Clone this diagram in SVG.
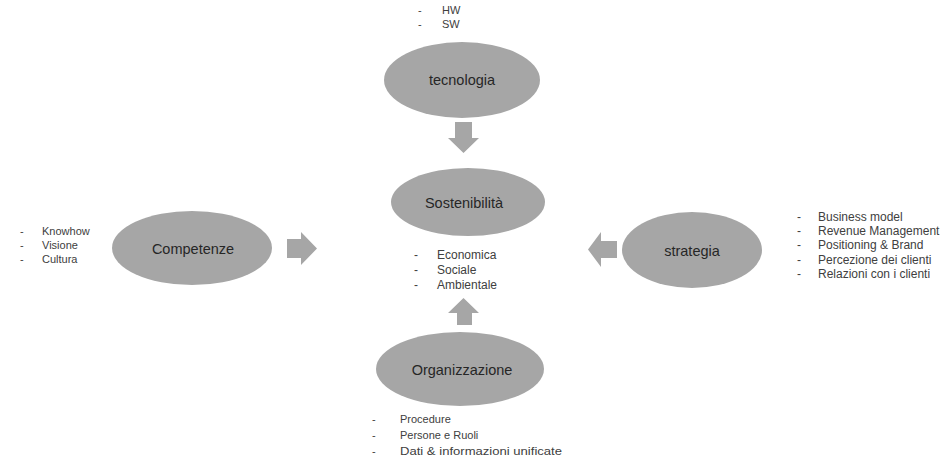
<svg xmlns="http://www.w3.org/2000/svg" width="948" height="459" viewBox="0 0 948 459">
<style>
.node ellipse{fill:#a6a6a6;stroke:none}
.lbl{font-family:"Liberation Sans",Arial,sans-serif;font-size:14.5px;fill:#262626;text-anchor:middle;dominant-baseline:central}
.b{font-family:"Liberation Sans",Arial,sans-serif;font-size:11px;fill:#404040}
.s12{font-size:12px}
.arrow{fill:#a6a6a6}
</style>
<rect width="948" height="459" fill="#ffffff"/>
<g id="connectors">
<path class="arrow" d="M455,122 H472 V138 H479 L463.5,153 L448,138 H455 Z"/>
<path class="arrow" d="M287,239 H301 V232 L317,248.5 L301,265 V258 H287 Z"/>
<path class="arrow" d="M617,241 H601 V232 L588,249.5 L601,267 V258 H617 Z"/>
<path class="arrow" d="M457,325 H472 V313 H479 L463.5,298 L448,313 H457 Z"/>
</g>
<g id="tecnologia" class="node">
<ellipse cx="462" cy="80" rx="78" ry="38"/>
<text class="lbl" x="462" y="80">tecnologia</text>
<text class="b" x="418" y="14">-</text><text class="b" x="442" y="14">HW</text>
<text class="b" x="418" y="28">-</text><text class="b" x="442" y="28">SW</text>
</g>
<g id="sostenibilita" class="node">
<ellipse cx="468" cy="202" rx="77" ry="34"/>
<text class="lbl" x="464" y="203">Sostenibilità</text>
<text class="b s12" x="414" y="259">-</text><text class="b s12" x="437" y="259">Economica</text>
<text class="b s12" x="414" y="274">-</text><text class="b s12" x="437" y="274">Sociale</text>
<text class="b s12" x="414" y="289">-</text><text class="b s12" x="437" y="289">Ambientale</text>
</g>
<g id="competenze" class="node">
<ellipse cx="192" cy="248" rx="80" ry="37"/>
<text class="lbl" x="193" y="249">Competenze</text>
<text class="b" x="20" y="235">-</text><text class="b" x="42" y="235">Knowhow</text>
<text class="b" x="20" y="249">-</text><text class="b" x="42" y="249">Visione</text>
<text class="b" x="20" y="263">-</text><text class="b" x="42" y="263">Cultura</text>
</g>
<g id="strategia" class="node">
<ellipse cx="692" cy="250" rx="70" ry="38"/>
<text class="lbl" x="692" y="251">strategia</text>
<text class="b s12" x="797" y="221">-</text><text class="b s12" x="818" y="221">Business model</text>
<text class="b s12" x="797" y="235">-</text><text class="b s12" x="818" y="235">Revenue Management</text>
<text class="b s12" x="797" y="249">-</text><text class="b s12" x="818" y="249">Positioning &amp; Brand</text>
<text class="b s12" x="797" y="264">-</text><text class="b s12" x="818" y="264">Percezione dei clienti</text>
<text class="b s12" x="797" y="278">-</text><text class="b s12" x="818" y="278">Relazioni con i clienti</text>
</g>
<g id="organizzazione" class="node">
<ellipse cx="460" cy="369" rx="84" ry="37"/>
<text class="lbl" x="462" y="370">Organizzazione</text>
<text class="b" x="372" y="423">-</text><text class="b" x="400" y="423">Procedure</text>
<text class="b" x="372" y="439">-</text><text class="b" x="400" y="439">Persone e Ruoli</text>
<text class="b" x="372" y="455">-</text><text class="b" x="400" y="455" textLength="162" lengthAdjust="spacingAndGlyphs">Dati &amp; informazioni unificate</text>
</g>
</svg>
